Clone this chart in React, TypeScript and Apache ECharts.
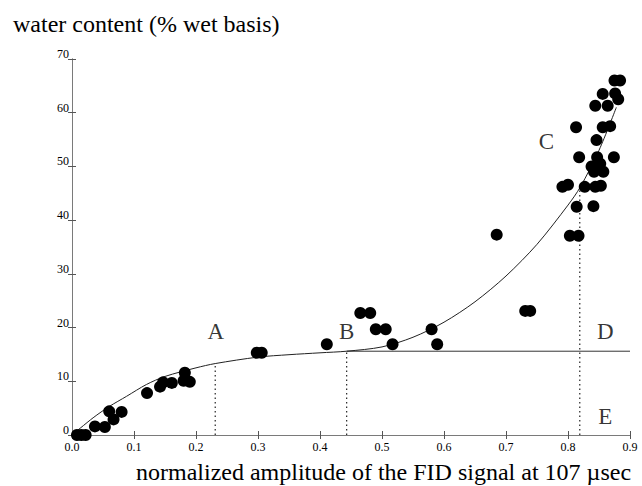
import React, { useEffect, useRef } from "react";
import * as echarts from "echarts";

const xTicks = [0, 0.1, 0.2, 0.3, 0.4, 0.5, 0.6, 0.7, 0.8, 0.9];
const yTicks = [0, 10, 20, 30, 40, 50, 60, 70];

const pointX = [
  0.008, 0.015, 0.022, 0.037, 0.053, 0.06, 0.067, 0.08, 0.121, 0.142, 0.147, 0.161, 0.18, 0.182, 0.19,
  0.298, 0.306, 0.411, 0.465, 0.481, 0.49, 0.506, 0.517, 0.58, 0.589, 0.685, 0.731, 0.739,
  0.791, 0.8, 0.803, 0.817, 0.814, 0.841, 0.813, 0.818, 0.827, 0.844, 0.853, 0.838, 0.852, 0.842, 0.857,
  0.847, 0.874, 0.846, 0.856, 0.868, 0.844, 0.864, 0.856, 0.876, 0.881, 0.875, 0.884,
];
const pointY = [
  0, 0, 0, 1.6, 1.5, 4.4, 2.9, 4.3, 7.8, 9.0, 9.8, 9.7, 10.1, 11.6, 9.9,
  15.3, 15.3, 16.9, 22.7, 22.7, 19.7, 19.7, 16.9, 19.7, 16.9, 37.3, 23.1, 23.1,
  46.2, 46.6, 37.1, 37.1, 42.5, 42.6, 57.3, 51.7, 46.2, 46.2, 46.4, 50.0, 50.5, 49.0, 49.0,
  51.7, 51.7, 54.9, 57.3, 57.5, 61.3, 61.3, 63.5, 63.6, 62.5, 66.0, 66.0,
];

const curveX = [
  0, 0.034, 0.06, 0.088, 0.12, 0.15, 0.2, 0.231, 0.3, 0.35, 0.4, 0.443, 0.5, 0.55, 0.6, 0.65, 0.7,
  0.75, 0.8, 0.82, 0.85, 0.878,
];
const curveY = [
  0, 3.2, 5.3, 7.2, 9.4, 10.9, 12.5, 13.3, 14.5, 14.95, 15.3, 15.6, 16.4, 18.2, 21, 24.8, 29.6,
  35.5, 42.8, 46.2, 53, 61,
];

const plateauX = [0.443, 0.9];
const plateauY = [15.6, 15.6];

const guideNames = ["A", "B", "D"];
const guideX = [0.231, 0.443, 0.819];
const guideTop = [13.3, 15.6, 46.2];

const letterNames = ["A", "B", "C", "D", "E"];
const letterX = [0.232, 0.443, 0.765, 0.86, 0.86];
const letterY = [19.2, 19.2, 54.6, 19.2, 3.4];

const SERIF = "'Liberation Serif', 'Times New Roman', serif";

export default function App() {
  const ref = useRef<HTMLDivElement>(null);
  useEffect(() => {
    if (!ref.current) return;
    const chart = echarts.init(ref.current, undefined, { renderer: "svg" });
    const axisLine = { show: true, lineStyle: { color: "#7a7a7a", width: 1 } };
    const tickInside = { show: true, inside: true, length: 4, lineStyle: { color: "#555" } };
    const guideSeries = guideNames.map((n, i) => ({
      type: "line",
      name: "guide" + n,
      data: [
        [guideX[i], 0],
        [guideX[i], guideTop[i]],
      ],
      symbol: "none",
      lineStyle: { color: "#222", width: 1.2, type: [1.5, 3] },
      z: 1,
    }));
    chart.setOption({
      animation: false,
      backgroundColor: "#fff",
      title: [
        {
          text: "water content (% wet basis)",
          left: 8,
          top: 7,
          textStyle: { fontFamily: SERIF, fontSize: 24, fontWeight: "normal", color: "#000" },
        },
        {
          text: "normalized amplitude of the FID signal at 107 µsec",
          left: 131,
          top: 455,
          textStyle: { fontFamily: SERIF, fontSize: 24, fontWeight: "normal", color: "#000", lineHeight: 24 },
        },
      ],
      grid: { left: 72, right: 12, top: 59, bottom: 51, containLabel: false },
      xAxis: [
        {
          type: "value",
          min: xTicks[0],
          max: xTicks[xTicks.length - 1],
          interval: 0.1,
          axisLine,
          axisTick: tickInside,
          splitLine: { show: false },
          axisLabel: {
            fontFamily: SERIF,
            fontSize: 12,
            color: "#000",
            margin: 6,
            formatter: (v: number) => v.toFixed(1),
          },
        },
        {
          type: "value",
          position: "top",
          min: xTicks[0],
          max: xTicks[xTicks.length - 1],
          interval: 0.1,
          axisLine,
          axisTick: tickInside,
          splitLine: { show: false },
          axisLabel: { show: false },
        },
      ],
      yAxis: [
        {
          type: "value",
          min: yTicks[0],
          max: yTicks[yTicks.length - 1],
          interval: 10,
          axisLine,
          axisTick: tickInside,
          splitLine: { show: false },
          axisLabel: {
            fontFamily: SERIF,
            fontSize: 12,
            color: "#000",
            margin: 3,
            verticalAlign: "bottom",
            lineHeight: 10,
          },
        },
        {
          type: "value",
          position: "right",
          min: yTicks[0],
          max: yTicks[yTicks.length - 1],
          interval: 10,
          axisLine,
          axisTick: tickInside,
          splitLine: { show: false },
          axisLabel: { show: false },
        },
      ],
      series: [
        ...guideSeries,
        {
          type: "line",
          name: "plateau",
          data: plateauX.map((x, i) => [x, plateauY[i]]),
          symbol: "none",
          lineStyle: { color: "#333", width: 1 },
          z: 2,
        },
        {
          type: "line",
          name: "fit",
          data: curveX.map((x, i) => [x, curveY[i]]),
          symbol: "none",
          smooth: 0.3,
          lineStyle: { color: "#222", width: 1 },
          z: 2,
        },
        {
          type: "scatter",
          name: "samples",
          data: pointX.map((x, i) => [x, pointY[i]]),
          symbol: "circle",
          symbolSize: 12,
          itemStyle: { color: "#000", opacity: 1 },
          clip: false,
          z: 3,
        },
        {
          type: "scatter",
          name: "letters",
          data: letterX.map((x, i) => ({ value: [x, letterY[i]], name: letterNames[i] })),
          symbolSize: 0,
          itemStyle: { color: "transparent" },
          label: {
            show: true,
            position: "inside",
            formatter: (p: any) => p.name,
            fontFamily: SERIF,
            fontSize: 23,
            color: "#000",
          },
          z: 4,
        },
      ],
    });
    return () => chart.dispose();
  }, []);
  return <div ref={ref} style={{ position: "fixed", left: 0, top: 0, width: 642, height: 486 }} />;
}
